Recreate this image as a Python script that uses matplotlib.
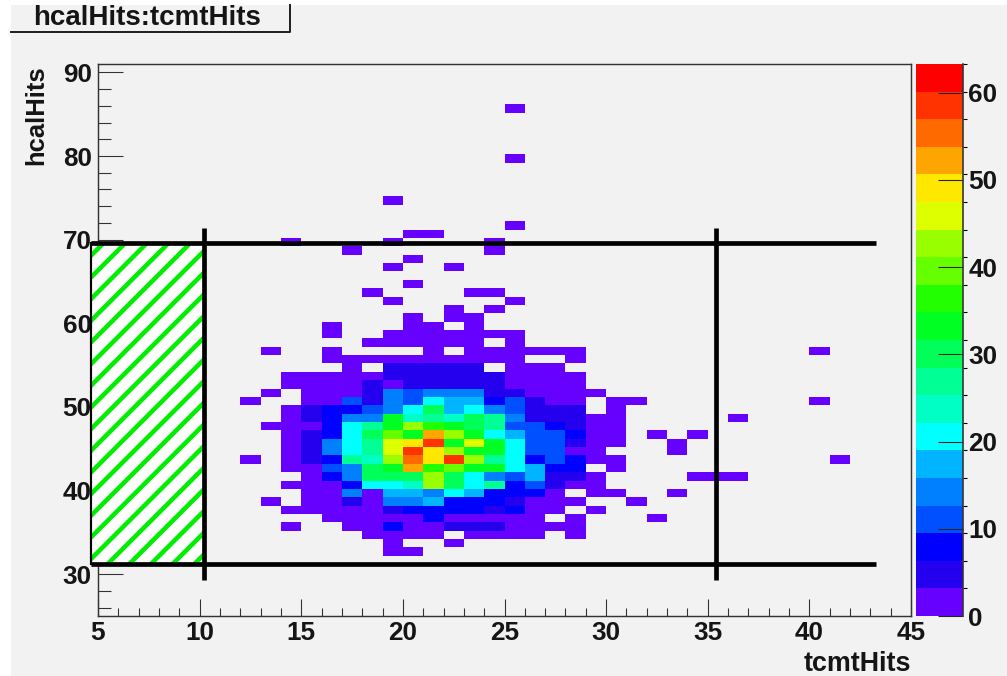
import numpy as np
import matplotlib
matplotlib.use("Agg")
import matplotlib.pyplot as plt
from matplotlib.colors import BoundaryNorm, ListedColormap
from matplotlib.patches import Rectangle
from matplotlib.ticker import MultipleLocator

plt.rcParams["font.family"] = ["Liberation Sans", "DejaVu Sans"]
plt.rcParams["font.weight"] = "bold"
plt.rcParams["hatch.linewidth"] = 2.5

# tcmtHits bins 12..31 (columns), hcalHits bins 58 down to 32 (rows)
x_bins = list(range(12, 32))
y_bins = list(range(58, 31, -1))
hits = [
    [0, 0, 0, 0, 1, 0, 0, 1, 1, 1, 1, 1, 1, 1, 0, 0, 0, 0, 0, 0],
    [0, 0, 0, 0, 0, 0, 1, 1, 1, 1, 1, 1, 0, 1, 0, 0, 0, 0, 0, 0],
    [0, 1, 0, 0, 1, 0, 0, 0, 0, 1, 0, 1, 1, 1, 1, 1, 1, 0, 0, 0],
    [0, 0, 0, 0, 1, 1, 1, 1, 1, 1, 1, 1, 2, 1, 0, 0, 1, 0, 0, 0],
    [0, 0, 0, 0, 0, 1, 0, 4, 4, 4, 4, 5, 0, 1, 1, 1, 0, 0, 0, 0],
    [0, 0, 1, 1, 1, 1, 1, 5, 5, 5, 5, 5, 5, 2, 2, 2, 2, 0, 0, 0],
    [0, 0, 2, 2, 2, 2, 4, 2, 5, 5, 5, 5, 5, 2, 2, 2, 2, 0, 0, 0],
    [0, 1, 0, 2, 2, 2, 5, 15, 11, 14, 13, 13, 5, 5, 3, 2, 2, 1, 0, 0],
    [1, 0, 0, 2, 2, 10, 5, 14, 11, 20, 16, 16, 7, 10, 4, 2, 2, 0, 1, 1],
    [0, 0, 2, 4, 7, 7, 11, 15, 20, 30, 17, 20, 15, 10, 5, 5, 5, 0, 1, 0],
    [0, 0, 2, 4, 7, 15, 14, 32, 24, 26, 23, 30, 28, 15, 6, 6, 6, 3, 2, 0],
    [0, 1, 2, 3, 7, 21, 27, 32, 42, 35, 32, 30, 26, 11, 11, 7, 6, 2, 2, 0],
    [0, 0, 2, 4, 7, 21, 29, 40, 33, 52, 42, 33, 21, 16, 11, 11, 7, 2, 2, 0],
    [0, 0, 2, 4, 14, 21, 28, 46, 48, 59, 34, 46, 32, 21, 11, 11, 6, 2, 2, 0],
    [0, 0, 2, 4, 14, 21, 28, 46, 58, 48, 42, 34, 32, 21, 11, 11, 3, 3, 0, 0],
    [1, 0, 2, 4, 7, 28, 24, 42, 54, 48, 59, 44, 26, 21, 7, 10, 9, 2, 1, 0],
    [0, 0, 2, 3, 10, 15, 30, 32, 52, 35, 40, 33, 33, 21, 16, 7, 8, 0, 1, 0],
    [0, 0, 0, 3, 7, 13, 30, 31, 29, 44, 30, 21, 15, 10, 16, 5, 4, 1, 0, 0],
    [0, 0, 1, 2, 2, 7, 20, 20, 23, 44, 30, 21, 27, 7, 11, 5, 2, 1, 0, 0],
    [0, 0, 0, 2, 2, 13, 2, 16, 16, 13, 21, 16, 7, 8, 7, 3, 0, 1, 1, 0],
    [0, 1, 0, 2, 3, 5, 3, 14, 14, 17, 7, 7, 8, 4, 3, 2, 1, 0, 0, 1],
    [0, 0, 2, 2, 2, 3, 3, 5, 7, 7, 7, 7, 6, 7, 3, 2, 0, 1, 0, 0],
    [0, 0, 0, 0, 2, 2, 3, 3, 2, 8, 3, 2, 2, 2, 1, 0, 1, 0, 0, 0],
    [0, 0, 1, 0, 0, 2, 2, 7, 3, 3, 4, 5, 5, 2, 1, 1, 1, 0, 0, 0],
    [0, 0, 0, 0, 0, 0, 2, 2, 2, 2, 0, 1, 1, 1, 1, 0, 1, 0, 0, 0],
    [0, 0, 0, 0, 0, 0, 0, 1, 0, 0, 1, 0, 0, 0, 0, 0, 0, 0, 0, 0],
    [0, 0, 0, 0, 0, 0, 0, 1, 1, 0, 0, 0, 0, 0, 0, 0, 0, 0, 0, 0],
]

# single-entry bins outside the core
stray_x = [25, 25, 19, 25, 20, 21, 14, 19, 24, 17, 24, 20, 19, 22, 20, 18, 23, 24,
           19, 25, 22, 24, 20, 22, 23, 16, 20, 21, 23,
           40, 40, 36, 32, 34, 33, 33, 41, 34, 35, 36, 33, 32]
stray_y = [85, 79, 74, 71, 70, 70, 69, 69, 69, 68, 68, 67, 66, 66, 64, 63, 63, 63,
           62, 62, 61, 61, 60, 60, 60, 59, 59, 59, 59,
           56, 50, 48, 46, 46, 45, 44, 43, 41, 41, 41, 39, 36]

palette = ["#6600ff", "#2400ee", "#0000ff", "#0050ff", "#0080ff", "#00b4ff", "#00ffff",
           "#00ffc4", "#00ff94", "#00ff58", "#00ff22", "#22ff00", "#66ff00", "#99ff00",
           "#ddff00", "#ffe800", "#ffa500", "#ff6a00", "#ff3300", "#ff0000"]
z_max = 63.3

# selection cuts
x_low, x_high = 10.2, 35.4
y_low, y_high = 31.2, 69.6

grey = "#f2f2f2"
ink = "#151515"

fig = plt.figure(figsize=(1007.01 / 130, 676.01 / 130), dpi=130, facecolor="white")
fig.patches.append(Rectangle((11 / 1007, 0), 996 / 1007, 671 / 676, transform=fig.transFigure,
                             facecolor=grey, edgecolor="none", zorder=-10))

ax = fig.add_axes([98 / 1007, 60 / 676, 813 / 1007, 552 / 676], facecolor=grey)

# fill the 2d histogram
z = np.zeros((91 - 25, 45 - 5))
for row, y in zip(hits, y_bins):
    for x, v in zip(x_bins, row):
        z[y - 25, x - 5] = v
for x, y in zip(stray_x, stray_y):
    z[y - 25, x - 5] = 1
z = np.ma.masked_equal(z, 0)

levels = np.linspace(0, z_max, len(palette) + 1)
cmap = ListedColormap(palette)
norm = BoundaryNorm(levels, cmap.N)
mesh = ax.pcolormesh(np.arange(5, 46), np.arange(25, 92) + 0.2, z, cmap=cmap, norm=norm)

ax.set_xlim(5, 45)
ax.set_ylim(25, 91)
ax.xaxis.set_major_locator(MultipleLocator(5))
ax.xaxis.set_minor_locator(MultipleLocator(1))
ax.yaxis.set_major_locator(MultipleLocator(10))
ax.yaxis.set_minor_locator(MultipleLocator(2))
ax.tick_params(axis="x", which="major", direction="in", length=9.5, width=0.6, color="#333333",
               labelsize=14.5, pad=3, labelcolor=ink)
ax.tick_params(axis="x", which="minor", direction="in", length=4.5, width=0.6, color="#333333")
ax.tick_params(axis="y", which="major", direction="in", length=14, width=0.6, color="#333333",
               labelsize=14.5, pad=3.5, labelcolor=ink)
ax.tick_params(axis="y", which="minor", direction="in", length=7, width=0.6, color="#333333")
for s in ax.spines.values():
    s.set_linewidth(0.8)
    s.set_color("#333333")

# cut box and lines
ax.add_patch(Rectangle((4.65, y_low), x_low - 4.65, y_high - y_low, facecolor="white", edgecolor="#00ee00",
                       hatch="//", linewidth=0, clip_on=False, zorder=5))
ax.plot([4.65, 43.3], [y_high, y_high], color="black", lw=2.6, clip_on=False, zorder=6, solid_capstyle="butt")
ax.plot([4.65, 43.3], [y_low, y_low], color="black", lw=2.6, clip_on=False, zorder=6, solid_capstyle="butt")
ax.plot([4.65, 4.65], [y_low, y_high], color="black", lw=1.2, clip_on=False, zorder=6)
ax.plot([x_low, x_low], [29.3, 71.4], color="black", lw=2.6, clip_on=False, zorder=6, solid_capstyle="butt")
ax.plot([x_high, x_high], [29.3, 71.4], color="black", lw=2.6, clip_on=False, zorder=6, solid_capstyle="butt")

# palette on the right
cax = fig.add_axes([916 / 1007, 60 / 676, 47 / 1007, 552 / 676])
cb = fig.colorbar(mesh, cax=cax, drawedges=False)
cb.set_ticks([0, 10, 20, 30, 40, 50, 60])
cb.outline.set_visible(False)
cax.plot([1, 1], [0, z_max], color="#333333", lw=0.9, clip_on=False)
cax.tick_params(axis="y", direction="in", length=14, width=0.6, color="#222222", labelsize=14.5, pad=3,
                labelcolor=ink)

# axis titles
fig.text(911 / 1007, 1 - 664 / 676, "tcmtHits", ha="right", va="center", fontsize=14.9, color=ink)
fig.text(36 / 1007, 1 - 65 / 676, "hcalHits", ha="center", va="top", rotation=90, fontsize=14.2, color=ink)

# title tab
fig.text(147 / 1007, 1 - 18 / 676, "hcalHits:tcmtHits", ha="center", va="center", fontsize=15.4, color=ink)
fig.add_artist(plt.Line2D([11 / 1007, 290 / 1007, 290 / 1007], [1 - 32.5 / 676, 1 - 32.5 / 676, 1 - 5 / 676],
                          color="#222222", lw=1.1))

fig.savefig("out.png", dpi=130, facecolor=fig.get_facecolor())
